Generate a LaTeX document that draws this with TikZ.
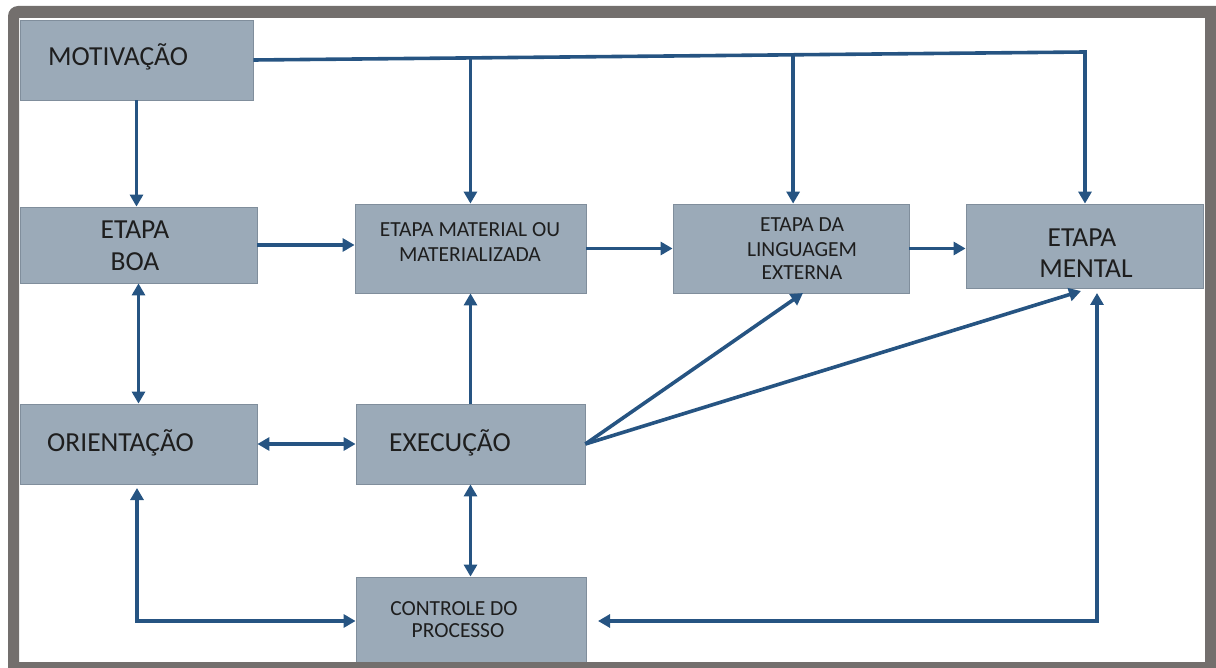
\documentclass[tikz,border=0pt]{standalone}
\usepackage{fontspec}
\setmainfont{Carlito}
\usetikzlibrary{arrows.meta,calc}
\definecolor{boxfill}{RGB}{155,170,184}
\definecolor{boxline}{RGB}{128,142,156}
\definecolor{arrowblue}{RGB}{38,84,130}
\definecolor{framegray}{RGB}{115,111,109}
\definecolor{txt}{RGB}{30,30,30}
\begin{document}
\begin{tikzpicture}[x=1pt,y=-1pt,
  box/.style={draw=boxline, line width=0.8pt, fill=boxfill, rectangle, inner sep=0pt},
  conn/.style={draw=arrowblue, line width=3.6pt, line join=miter},
  arr/.style={conn, -{Triangle[length=12pt,width=13pt]}},
  darr/.style={conn, {Triangle[length=12pt,width=13pt]}-{Triangle[length=12pt,width=13pt]}},
  big/.style={text=txt, inner sep=0pt, anchor=base, font=\fontsize{27.5}{30}\selectfont},
  small/.style={text=txt, inner sep=0pt, anchor=base, font=\fontsize{21.5}{24}\selectfont}]
\useasboundingbox (0,0) rectangle (1216,668);
% boxes
\node[box, minimum width=233pt, minimum height=80pt] (mot) at (136.5,60) {};
\node[box, minimum width=237pt, minimum height=76pt] (boa) at (138.5,245) {};
\node[box, minimum width=231pt, minimum height=89pt] (mat) at (470.5,248.5) {};
\node[box, minimum width=236pt, minimum height=89pt] (lin) at (791,248.5) {};
\node[box, minimum width=237pt, minimum height=84pt] (men) at (1084.5,246) {};
\node[box, minimum width=237pt, minimum height=80pt] (ori) at (138.5,444) {};
\node[box, minimum width=229pt, minimum height=80pt] (exe) at (470.5,444) {};
\node[box, minimum width=230pt, minimum height=91pt] (con) at (471,622.5) {};
% texts
\node[big, anchor=base west] (tmot) at (48,65.5) {MOTIVAÇÃO};
\node[big] (tboa1) at (135,238.5) {ETAPA};
\node[big] (tboa2) at (135,270.5) {BOA};
\node[small] (tmat1) at (470,237) {ETAPA MATERIAL OU};
\node[small] (tmat2) at (470,262) {MATERIALIZADA};
\node[small] (tlin1) at (802,232) {ETAPA DA};
\node[small] (tlin2) at (802,257) {LINGUAGEM};
\node[small] (tlin3) at (802,280) {EXTERNA};
\node[big] (tmen1) at (1082,246.5) {ETAPA};
\node[big] (tmen2) at (1086,277.5) {MENTAL};
\node[big, anchor=base west] (tori) at (47,451.5) {ORIENTAÇÃO};
\node[big, anchor=base west] (texe) at (389,451.5) {EXECUÇÃO};
\node[small] (tcon1) at (454,615) {CONTROLE DO};
\node[small] (tcon2) at (458,637) {PROCESSO};
% connectors
\coordinate (tr) at (1085,52);
\draw[arr] (mot.east) -- (tr) -- (tr |- men.north);
\path (mot.east) -- (tr) coordinate[pos=0.261] (b1) coordinate[pos=0.649] (b2);
\draw[arr] (b1) -- (b1 |- mat.north);
\draw[arr] (b2) -- (b2 |- lin.north);
\draw[arr] (mot.south) -- (mot.south |- boa.north);
\draw[arr] (boa.east) -- (boa.east -| mat.west);
\draw[arr] (mat.east) -- (mat.east -| lin.west);
\draw[arr] (lin.east) -- (lin.east -| men.west);
\draw[darr] (boa.south) -- (boa.south |- ori.north);
\draw[darr] (ori.east) -- (ori.east -| exe.west);
\draw[arr] (exe.north) -- (exe.north |- mat.south);
\draw[darr] (exe.south) -- (exe.south |- con.north);
\coordinate (l1) at (803,293);
\coordinate (m1) at (1081,291);
\draw[arr] (exe.east) -- (l1);
\draw[arr] (exe.east) -- (m1);
\coordinate (mt) at (1097,293);
\coordinate (mr) at (1097,621);
\coordinate (cr) at (598,621);
\draw[darr] (mt) -- (mr) -- (cr);
\coordinate (ot) at (137,488);
\coordinate (ol) at (137,621);
\draw[darr] (ot) -- (ol) -- (con.west |- ol);
% frame
\begin{scope}
\clip (0,0) rectangle (1216,668);
\fill[framegray, even odd rule] [rounded corners=10pt] (8,6) rectangle (1240,700) [sharp corners] (19,18) rectangle (1205,662);
\end{scope}
\end{tikzpicture}
\end{document}
